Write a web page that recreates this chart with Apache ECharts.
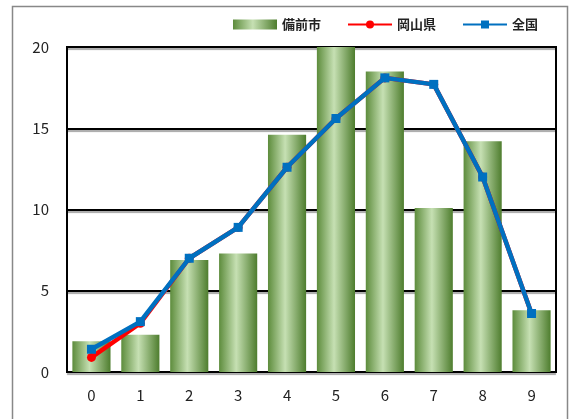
<!DOCTYPE html>
<html><head><meta charset="utf-8">
<script src="https://cdn.jsdelivr.net/npm/echarts@6/dist/echarts.min.js"></script>
<style>html,body{margin:0;padding:0;background:#fff}#c{width:573px;height:419px}</style>
</head><body><div id="c"></div>
<script>
const categories = ['0','1','2','3','4','5','6','7','8','9'];
const bizen = [1.9, 2.3, 6.9, 7.3, 14.6, 20.0, 18.5, 10.1, 14.2, 3.8];
const okayama = [0.9, 3.0, 7.0, 8.9, 12.6, 15.6, 18.1, 17.7, 12.0, 3.6];
const zenkoku = [1.4, 3.1, 7.0, 8.9, 12.6, 15.6, 18.1, 17.7, 12.0, 3.6];
const seriesNames = ['備前市', '岡山県', '全国'];

const chart = echarts.init(document.getElementById('c'), null, {renderer: 'canvas'});
const barGrad = new echarts.graphic.LinearGradient(0, 0, 1, 0, [
  {offset: 0, color: '#5d8c3c'},
  {offset: 0.45, color: '#c6e0b3'},
  {offset: 1, color: '#4e7d2e'}
]);
const font = '"Noto Sans CJK JP", "Noto Sans", sans-serif';
chart.setOption({
  animation: false,
  textStyle: {fontFamily: font},
  graphic: [{
    type: 'rect', shape: {x: 12.5, y: 6.5, width: 555, height: 420},
    style: {fill: 'none', stroke: '#888', lineWidth: 1.5}, z: -10
  }],
  legend: {
    top: 13, right: 30, itemGap: 26, itemWidth: 44, itemHeight: 10,
    textStyle: {fontSize: 13, fontWeight: 'bold', color: '#222', fontFamily: font},
    data: [
      {name: seriesNames[0], icon: 'rect'},
      {name: seriesNames[1]},
      {name: seriesNames[2]}
    ]
  },
  grid: {left: 67, right: 17, top: 47, bottom: 47, show: true, borderColor: '#000', borderWidth: 2},
  xAxis: {
    type: 'category', data: categories,
    axisLine: {lineStyle: {color: '#000', width: 2}},
    axisTick: {show: false},
    axisLabel: {fontSize: 15, color: '#222', margin: 16}
  },
  yAxis: {
    type: 'value', min: 0, max: 20, interval: 5,
    axisLine: {show: true, lineStyle: {color: '#000', width: 2}},
    axisTick: {show: false},
    axisLabel: {fontSize: 15, color: '#222', margin: 18},
    splitLine: {lineStyle: {color: '#000', width: 2, shadowColor: 'rgba(0,0,0,0.35)', shadowOffsetY: 2, shadowBlur: 1}}
  },
  series: [
    {name: seriesNames[0], type: 'bar', data: bizen, barWidth: '78%', itemStyle: {color: barGrad}},
    {name: seriesNames[1], type: 'line', data: okayama, symbol: 'circle', symbolSize: 9,
      lineStyle: {color: '#ff0000', width: 4.5}, itemStyle: {color: '#ff0000'}, z: 3},
    {name: seriesNames[2], type: 'line', data: zenkoku, symbol: 'rect', symbolSize: 9,
      lineStyle: {color: '#0070c0', width: 4.5}, itemStyle: {color: '#0070c0'}, z: 4}
  ]
});
</script></body></html>
